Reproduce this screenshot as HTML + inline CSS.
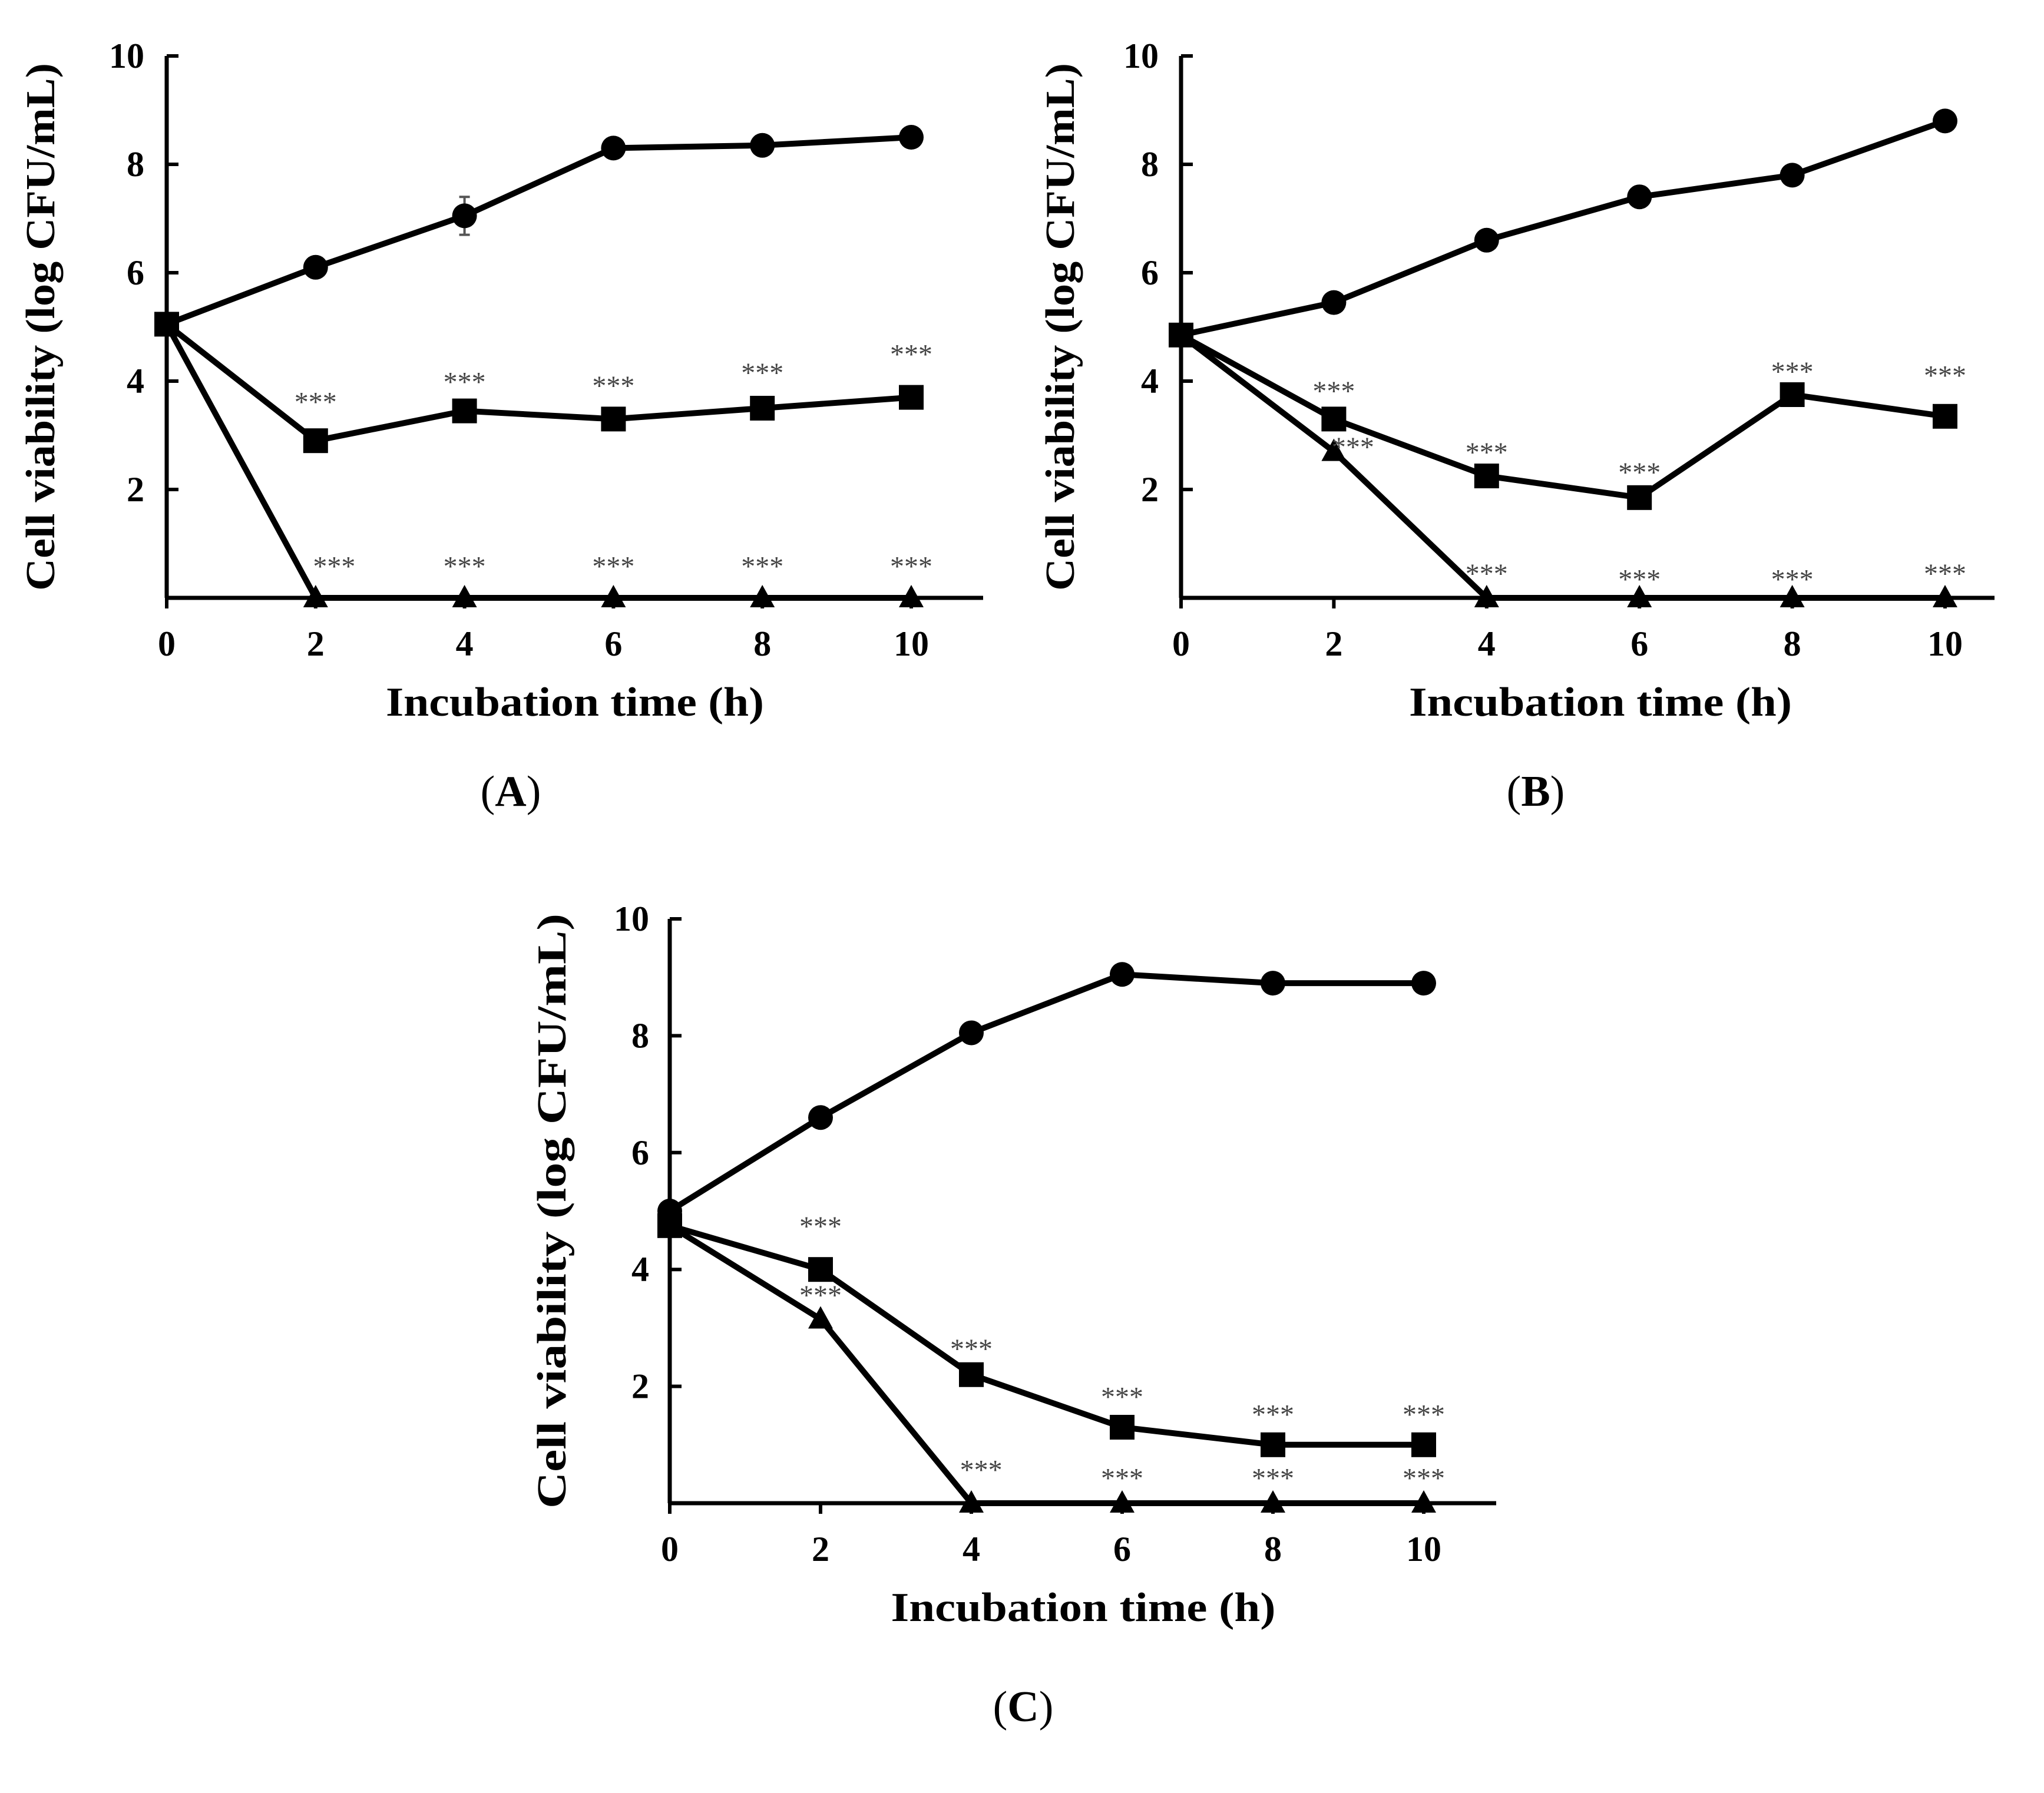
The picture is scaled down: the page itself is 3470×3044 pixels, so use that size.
<!DOCTYPE html>
<html><head><meta charset="utf-8"><style>
html,body{margin:0;padding:0;background:#fff}
svg{display:block}
text{font-family:"Liberation Serif",serif}
</style></head><body>
<svg id="c" width="3470" height="3044" viewBox="0 0 3470 3044" xmlns="http://www.w3.org/2000/svg"></svg>
<script>
const times=[0,2,4,6,8,10];
const xTicks=["0","2","4","6","8","10"];
const yTicks=[2,4,6,8,10];
const aCircle=[5.05,6.1,7.05,8.3,8.35,8.5];
const aSquare=[5.05,2.9,3.45,3.3,3.5,3.7];
const aTriangle=[5.05,0,0,0,0,0];
const aErr=[0,0,0.35,0,0,0];
const aSqStars=[null,3.7,4.07,4.0,4.24,4.58];
const aTriStars=[null,0.67,0.67,0.67,0.67,0.67];
const aTriStarDx=[0,0.25,0,0,0,0];
const bCircle=[4.85,5.45,6.6,7.4,7.8,8.8];
const bSquare=[4.85,3.3,2.25,1.85,3.75,3.35];
const bTriangle=[4.85,2.7,0,0,0,0];
const bErr=[0,0,0,0,0,0];
const bSqStars=[null,3.9,2.77,2.4,4.26,4.19];
const bTriStars=[null,2.87,0.53,0.43,0.43,0.53];
const bTriStarDx=[0,0.25,0,0,0,0];
const cCircle=[5.0,6.6,8.05,9.05,8.9,8.9];
const cSquare=[4.75,4.0,2.2,1.3,1.0,1.0];
const cTriangle=[4.75,3.15,0,0,0,0];
const cErr=[0,0,0,0,0,0];
const cSqStars=[null,4.82,2.72,1.9,1.6,1.6];
const cTriStars=[null,3.64,0.65,0.51,0.51,0.51];
const cTriStarDx=[0,0,0.13,0,0,0];

const NS="http://www.w3.org/2000/svg";
const svg=document.getElementById('c');
function mk(tag,attrs,parent){const e=document.createElementNS(NS,tag);for(const k in attrs)e.setAttribute(k,attrs[k]);(parent||svg).appendChild(e);return e;}

function panel(p){
  const g=mk('g',{});
  
  
  const X=t=>p.x0+(p.x10-p.x0)*t/10;
  const Y=v=>p.y0-(p.y0-p.y10)*v/10;
  const ya=mk('line',{x1:p.x0,y1:p.y10,x2:p.x0,y2:p.y0,stroke:'#000','stroke-width':7},g);
  
  
  const xa=mk('line',{x1:p.x0-3,y1:p.y0,x2:p.xEnd,y2:p.y0,stroke:'#000','stroke-width':7},g);
  
  
  yTicks.forEach(v=>{
    mk('line',{x1:p.x0,y1:Y(v),x2:p.x0+20,y2:Y(v),stroke:'#000','stroke-width':6},g);
    const t=mk('text',{x:p.yLabX,y:Y(v)+20,'text-anchor':'end','font-size':60,'font-weight':'bold'},g);
    t.textContent=v;
    
    
  });
  times.forEach((tm,i)=>{
    mk('line',{x1:X(tm),y1:p.y0,x2:X(tm),y2:p.y0+18,stroke:'#000','stroke-width':6},g);
    const t=mk('text',{x:X(tm),y:p.y0+98,'text-anchor':'middle','font-size':60,'font-weight':'bold'},g);
    t.textContent=xTicks[i];
    
    
  });
  const yt=mk('text',{x:0,y:0,transform:`translate(${p.yTitleX},${(p.y0+p.y10)/2}) rotate(-90)`,'text-anchor':'middle','font-size':70,'font-weight':'bold',textLength:p.yTitleLen,lengthAdjust:'spacingAndGlyphs'},g);
  yt.textContent='Cell viability (log CFU/mL)';
  
  
  const xt=mk('text',{x:p.xTitleX,y:p.y0+200,'text-anchor':'middle','font-size':70,'font-weight':'bold',textLength:p.xTitleLen,lengthAdjust:'spacingAndGlyphs'},g);
  xt.textContent='Incubation time (h)';
  
  
  const pl=mk('text',{x:p.labX,y:p.labY,'text-anchor':'middle','font-size':74},g);
  pl.innerHTML='(<tspan font-weight="bold">'+p.id+'</tspan>)';
  
  
  function series(vals,name){
    const pl=mk('polyline',{points:vals.map((v,i)=>X(times[i])+','+Y(v)).join(' '),fill:'none',stroke:'#000','stroke-width':10,'stroke-linejoin':'round'},g);
    
    
  }
  series(p.tri,'triangle-series');series(p.sq,'square-series');series(p.circ,'circle-series');
  p.circ.forEach((v,i)=>{
    if(p.err[i]>0){
      const e=mk('path',{d:`M${X(times[i])-9},${Y(v+p.err[i])}h18M${X(times[i])},${Y(v+p.err[i])}V${Y(v-p.err[i])}M${X(times[i])-9},${Y(v-p.err[i])}h18`,stroke:'#555','stroke-width':4,fill:'none'},g);
      
      
    }
    const c=mk('circle',{cx:X(times[i]),cy:Y(v),r:21,fill:'#000'},g);
    
    
  });
  p.sq.forEach((v,i)=>{
    const r=mk('rect',{x:X(times[i])-21,y:Y(v)-21,width:42,height:42,fill:'#000'},g);
    
    
  });
  p.tri.forEach((v,i)=>{
    if(i===0)return;
    const x=X(times[i]),y=Y(v);
    const t=mk('polygon',{points:`${x},${y-22} ${x-21},${y+16} ${x+21},${y+16}`,fill:'#000'},g);
    
    
  });
  function stars(arr,dx,name){
    arr.forEach((v,i)=>{
      if(v===null)return;
      const t=mk('text',{x:X(times[i]+(dx?dx[i]:0)),y:Y(v)+24,'text-anchor':'middle','font-size':48,fill:'#444'},g);
      t.textContent='***';
      
      
    });
  }
  stars(p.sqStars,null,'significance-square');
  stars(p.triStars,p.triDx,'significance-triangle');
}
panel({id:'A',x0:283,x10:1547,xEnd:1669,y0:1015,y10:95,yLabX:245,yTitleX:92,yTitleLen:896,xTitleX:976,xTitleLen:642,labX:867,labY:1368,
  circ:aCircle,sq:aSquare,tri:aTriangle,err:aErr,sqStars:aSqStars,triStars:aTriStars,triDx:aTriStarDx});
panel({id:'B',x0:2005,x10:3302,xEnd:3386,y0:1015,y10:95,yLabX:1967,yTitleX:1823,yTitleLen:896,xTitleX:2717,xTitleLen:650,labX:2607,labY:1368,
  circ:bCircle,sq:bSquare,tri:bTriangle,err:bErr,sqStars:bSqStars,triStars:bTriStars,triDx:bTriStarDx});
panel({id:'C',x0:1137,x10:2417,xEnd:2540,y0:2552,y10:1560,yLabX:1102,yTitleX:960,yTitleLen:1010,xTitleX:1839,xTitleLen:653,labX:1737,labY:2922,
  circ:cCircle,sq:cSquare,tri:cTriangle,err:cErr,sqStars:cSqStars,triStars:cTriStars,triDx:cTriStarDx});
</script>
</body></html>
